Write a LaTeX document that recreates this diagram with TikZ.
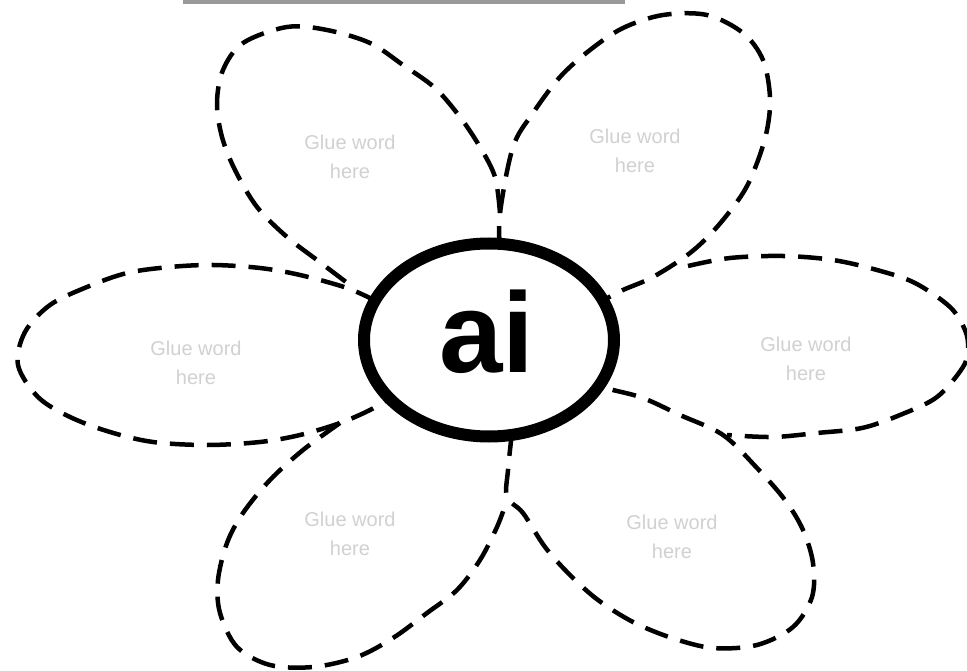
\documentclass[tikz,border=0pt]{standalone}
\usepackage{fontspec}
\setmainfont{Liberation Sans}
\usetikzlibrary{shapes.geometric}
\begin{document}
\begin{tikzpicture}[x=1pt,y=-1pt,
  petal/.style={draw=black,line width=4.5pt,dash pattern=on 24pt off 13pt,line join=round},
  glue/.style={text=black!18,font=\fontsize{20}{29}\selectfont,align=center},
  hub/.style={draw=black,line width=12pt,ellipse,inner sep=0pt,minimum width=250pt,minimum height=193pt,fill=white}]
\useasboundingbox (0,0) rectangle (967,671);
\fill[white] (0,0) rectangle (967,671);
\coordinate (barL) at (183,1.8);
\coordinate (barR) at (625,1.8);
\draw[black!40,line width=4pt] (barL) -- (barR);
% petals
\draw[petal] plot[smooth,tension=0.55] coordinates {(500,213) (495,177) (480,147) (460,117) (435,88) (403,65) (370,43) (327,30) (287,27) (243,43) (223,70) (217,103) (222,137) (235,170) (257,207) (287,237) (317,260) (350,285)};
\draw[petal] plot[smooth,tension=0.55] coordinates {(500,250) (500,213) (513,147) (533,113) (560,77) (590,50) (623,28) (663,15) (707,15) (743,33) (763,60) (770,97) (767,130) (757,163) (743,193) (717,227) (690,253) (653,277) (623,290) (600,302)};
\draw[petal] plot[smooth,tension=0.55] coordinates {(688,266) (730,258) (783,256) (833,260) (877,270) (915,283) (950,307) (965,330) (968,348) (963,367) (937,397) (900,415) (862,428) (817,433) (773,437) (727,435)};
\draw[petal] plot[smooth,tension=0.55] coordinates {(378,302) (347,288) (300,275) (260,268) (213,265) (170,267) (127,273) (87,287) (50,305) (25,332) (18,365) (38,397) (70,417) (110,432) (153,442) (207,445) (260,442) (300,435) (340,423) (370,410) (390,398)};
\draw[petal] plot[smooth,tension=0.55] coordinates {(340,423) (303,450) (270,480) (243,513) (227,543) (218,580) (220,613) (237,647) (270,665) (313,667) (357,657) (393,638) (427,613) (457,590) (480,560) (497,527) (506,503)};
\draw[petal] plot[smooth,tension=0.55] coordinates {(512,432) (508,470) (507,497) (523,513) (545,547) (570,575) (598,600) (633,622) (672,638) (713,648) (757,645) (793,627) (812,597) (813,563) (803,530) (785,500) (757,468) (723,435) (680,415) (643,398) (613,390) (598,386)};
% labels
\node[glue] (t1) at (350,157) {Glue word\\here};
\node[glue] (t2) at (635,151) {Glue word\\here};
\node[glue] (t3) at (806,359) {Glue word\\here};
\node[glue] (t4) at (196,363) {Glue word\\here};
\node[glue] (t5) at (350,534) {Glue word\\here};
\node[glue] (t6) at (672,537) {Glue word\\here};
% hub
\node[hub] (hub) at (489,340) {};
\node[font=\bfseries\fontsize{114}{114}\selectfont,inner sep=0pt,anchor=base] (ai) at (487,372) {ai};
\end{tikzpicture}
\end{document}
